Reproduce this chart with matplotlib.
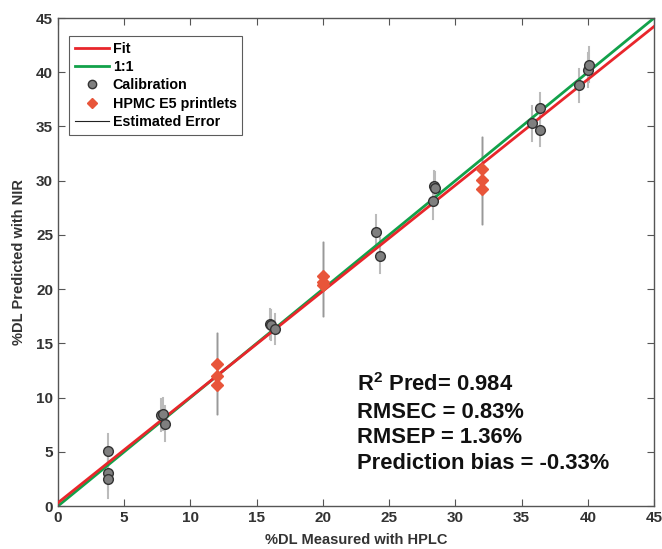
import matplotlib
matplotlib.use("Agg")
import matplotlib.pyplot as plt
from matplotlib.lines import Line2D
import numpy as np

plt.rcParams['font.family'] = ['Liberation Sans', 'DejaVu Sans']
plt.rcParams['mathtext.fontset'] = 'custom'
plt.rcParams['mathtext.rm'] = 'Liberation Sans:bold'
plt.rcParams['mathtext.bf'] = 'Liberation Sans:bold'
plt.rcParams['mathtext.default'] = 'bf'

# Calibration data
cal_x = [3.8, 3.8, 3.8, 7.8, 7.9, 8.1, 16.0, 16.1, 16.4, 24.0, 24.3, 28.3, 28.4, 28.5, 35.8, 36.4, 36.4, 39.3, 40.0, 40.1]
cal_y = [5.1, 3.0, 2.5, 8.4, 8.5, 7.6, 16.8, 16.7, 16.3, 25.3, 23.1, 28.1, 29.5, 29.3, 35.3, 36.7, 34.7, 38.8, 40.2, 40.7]
cal_err = [1.5, 1.5, 1.8, 1.5, 1.5, 1.6, 1.4, 1.4, 1.4, 1.5, 1.6, 1.6, 1.4, 1.5, 1.6, 1.4, 1.5, 1.5, 1.6, 1.6]

# HPMC E5 printlets
hp_x = [12, 12, 12, 20, 20, 20, 32, 32, 32]
hp_y = [13.1, 12.0, 11.2, 21.2, 20.7, 20.4, 31.1, 30.1, 29.2]
hp_lo = [8.5, 8.5, 8.5, 17.5, 17.5, 17.5, 26.0, 26.0, 26.0]
hp_hi = [16.0, 16.0, 16.0, 24.3, 24.3, 24.3, 34.0, 34.0, 34.0]

fit_slope = 0.976
fit_intercept = 0.3

stats_text = ["R$^{2}$ Pred= 0.984", "RMSEC = 0.83%", "RMSEP = 1.36%", "Prediction bias = -0.33%"]

fig = plt.figure(figsize=(6.62, 5.49), dpi=100)
ax = fig.add_axes([0.0876, 0.0783, 0.9004, 0.8889])

xl = np.array([0, 45])
ax.plot(xl, fit_slope * xl + fit_intercept, color='#E8262B', lw=2, zorder=3)
ax.plot(xl, xl, color='#12A14A', lw=2, zorder=2)

for x, y, e in zip(cal_x, cal_y, cal_err):
    ax.plot([x, x], [y - e, y + e], color='#BBBBBB', lw=1.5, zorder=1)
for x, lo, hi in zip(hp_x, hp_lo, hp_hi):
    ax.plot([x, x], [lo, hi], color='#999999', lw=1.0, zorder=1)

ax.plot(cal_x, cal_y, 'o', color='#7F7F7F', mec='#333333', mew=1, ms=7, zorder=4)
ax.plot(hp_x, hp_y, 'D', color='#E8553A', mec='#E8553A', ms=6, zorder=4)

ax.set_xlim(0, 45)
ax.set_ylim(0, 45)
ax.set_xticks(range(0, 46, 5))
ax.set_yticks(range(0, 46, 5))
ax.tick_params(direction='in', top=True, right=True, length=5, color='#555555',
               labelsize=11, labelcolor='#333333')
for lab in ax.get_xticklabels() + ax.get_yticklabels():
    lab.set_fontweight('bold')
for sp in ax.spines.values():
    sp.set_color('#555555')
    sp.set_linewidth(1)

ax.set_xlabel('%DL Measured with HPLC', fontsize=10.5, fontweight='bold', color='#333333', labelpad=6)
ax.set_ylabel('%DL Predicted with NIR', fontsize=10.5, fontweight='bold', color='#333333', labelpad=7)

handles = [
    Line2D([], [], color='#E8262B', lw=2),
    Line2D([], [], color='#12A14A', lw=2),
    Line2D([], [], ls='none', marker='o', color='#7F7F7F', mec='#333333', ms=6),
    Line2D([], [], ls='none', marker='D', color='#E8553A', mec='#E8553A', ms=5),
    Line2D([], [], color='#222222', lw=0.8),
]
labels = ['Fit', '1:1', 'Calibration', 'HPMC E5 printlets', 'Estimated Error']
leg = ax.legend(handles, labels, loc='upper left', bbox_to_anchor=(0.0185, 0.963),
                prop={'weight': 'bold', 'size': 10.3}, frameon=True, fancybox=False,
                edgecolor='#333333', handlelength=2.4, handletextpad=0.25,
                labelspacing=0.3, borderpad=0.4, borderaxespad=0)
leg.get_frame().set_linewidth(0.8)

ys = [11.2, 8.6, 6.3, 3.9]
for t, yv in zip(stats_text, ys):
    ax.text(22.6, yv, t, fontsize=15.8, fontweight='bold', color='#111111', va='center')

fig.savefig('out.png', dpi=100)
